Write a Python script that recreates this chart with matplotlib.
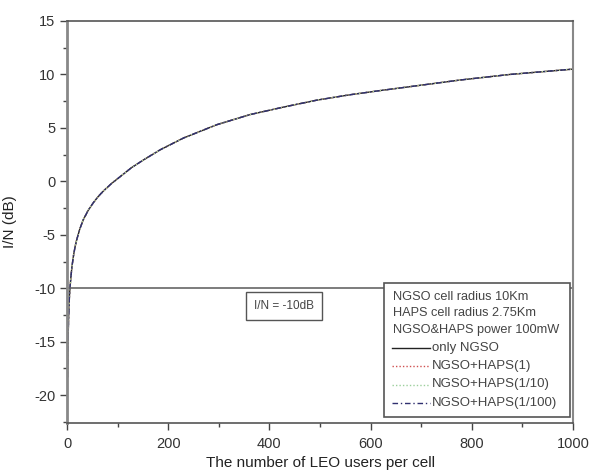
import matplotlib
matplotlib.use("Agg")
import matplotlib.pyplot as plt
from matplotlib.patches import Rectangle
from matplotlib.lines import Line2D

plt.rcParams['font.family'] = ['Liberation Sans', 'DejaVu Sans']
plt.rcParams['axes.unicode_minus'] = False

# Data
users = [1, 2, 3, 4, 5, 6, 8, 10, 13, 16, 19, 25, 32, 42, 52, 62, 72, 88, 105,
         128, 151, 184, 230, 296, 362, 428, 494, 559, 620, 678, 777, 875, 1000]
only_ngso = [-18.3, -15.2, -13.0, -11.6, -10.6, -9.9, -8.8, -7.9, -6.9, -6.1,
             -5.5, -4.5, -3.6, -2.7, -2.0, -1.4, -0.9, -0.2, 0.44, 1.3, 2.0,
             2.95, 4.05, 5.3, 6.25, 6.95, 7.6, 8.1, 8.5, 8.86, 9.48, 10.0, 10.5]
haps_1 = list(only_ngso)
haps_10 = list(only_ngso)
haps_100 = list(only_ngso)
threshold = -10

legend_header = ["NGSO cell radius 10Km", "HAPS cell radius 2.75Km",
                 "NGSO&HAPS power 100mW"]
series_labels = ["only NGSO", "NGSO+HAPS(1)", "NGSO+HAPS(1/10)", "NGSO+HAPS(1/100)"]

fig = plt.figure(figsize=(5.93, 4.74), dpi=100)
ax = fig.add_axes([67/593, 1-423/474, (573-67)/593, (423-21)/474])

styles = [
    dict(color='#222222', ls='-', lw=1.0),
    dict(color='#d05050', ls=(0, (1, 1.5)), lw=1.0),
    dict(color='#9ccf9c', ls=(0, (1, 1.5)), lw=1.0),
    dict(color='#303070', ls=(0, (4, 2, 1, 2)), lw=1.0),
]
for vals, st in zip([only_ngso, haps_1, haps_10, haps_100], styles):
    ax.plot(users, vals, **st)

ax.axhline(threshold, color='#666666', lw=1.2)

ax.set_xlim(0, 1000)
ax.set_ylim(-22.6, 15)
ax.set_xticks(range(0, 1001, 200))
ax.set_xticks(range(0, 1001, 100), minor=True)
ax.set_yticks(range(-20, 16, 5))
ax.set_yticks([v * 2.5 for v in range(-9, 7)], minor=True)
ax.tick_params(axis='both', which='major', direction='out', length=5, width=1,
               color='#444444', labelsize=10.5, labelcolor='#333333')
ax.tick_params(axis='both', which='minor', direction='out', length=3, width=1,
               color='#444444')
ax.tick_params(axis='x', pad=5)

for s in ['top', 'bottom']:
    ax.spines[s].set_color('#555555')
    ax.spines[s].set_linewidth(1.2)
ax.spines['left'].set_color('#888888')
ax.spines['left'].set_linewidth(2)
ax.spines['right'].set_color('#888888')
ax.spines['right'].set_linewidth(1.5)

ax.set_ylabel("I/N (dB)", fontsize=11, color='#222222', labelpad=12)
ax.set_xlabel("The number of LEO users per cell", fontsize=11, color='#222222',
              labelpad=4)

ax.text(429, -11.66, "I/N = -10dB", fontsize=8.5, color='#444444', ha='center',
        va='center',
        bbox=dict(boxstyle='square,pad=0.7', fc='white', ec='#555555', lw=1))

# legend box (axes coordinates)
def ax_xy(px, py):
    return ((px - 67) / (573 - 67), (423 - py) / (423 - 21))

x0, y0 = ax_xy(384, 417)
x1, y1 = ax_xy(570, 283)
box = Rectangle((x0, y0), x1 - x0, y1 - y0, transform=ax.transAxes,
                fc='white', ec='#555555', lw=1.2, zorder=5)
ax.add_patch(box)
rows_py = [297, 313.5, 330.5, 348, 366, 384.5, 403]
for txt, py in zip(legend_header, rows_py[:3]):
    tx, ty = ax_xy(393, py)
    ax.text(tx, ty, txt, transform=ax.transAxes, fontsize=9.2, color='#444444',
            va='center', ha='left', zorder=6)
for lab, st, py in zip(series_labels, styles, rows_py[3:]):
    hx0, hy = ax_xy(392, py)
    hx1, _ = ax_xy(430, py)
    ax.add_line(Line2D([hx0, hx1], [hy, hy], transform=ax.transAxes, zorder=6, **st))
    tx, ty = ax_xy(432, py)
    ax.text(tx, ty, lab, transform=ax.transAxes, fontsize=9.5, color='#444444',
            va='center', ha='left', zorder=6)

fig.savefig("out.png", dpi=100)
